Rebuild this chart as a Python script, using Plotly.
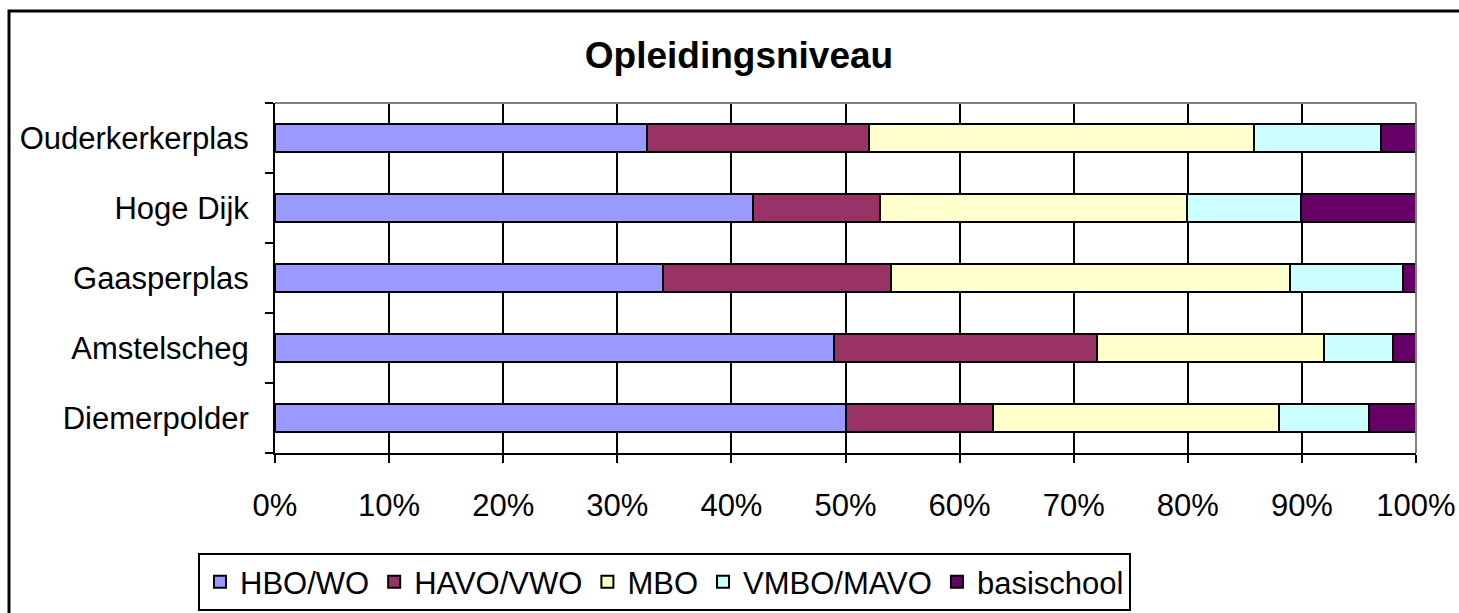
import plotly.graph_objects as go

categories = ["Diemerpolder", "Amstelscheg", "Gaasperplas", "Hoge Dijk", "Ouderkerkerplas"]
series_names = ["HBO/WO", "HAVO/VWO", "MBO", "VMBO/MAVO", "basischool"]
hbo_wo = [50.0, 49.0, 34.0, 41.9, 32.6]
havo_vwo = [12.9, 23.0, 20.0, 11.1, 19.5]
mbo = [25.1, 19.9, 35.0, 26.9, 33.7]
vmbo_mavo = [7.9, 6.1, 9.9, 10.0, 11.1]
basischool = [4.1, 2.0, 1.1, 10.1, 3.1]
x_ticks = [0, 10, 20, 30, 40, 50, 60, 70, 80, 90, 100]
x_tick_labels = [f"{t}%" for t in x_ticks]

series_values = [hbo_wo, havo_vwo, mbo, vmbo_mavo, basischool]
colors = ["#9999FF", "#993366", "#FFFFCC", "#CCFFFF", "#660066"]

W, H = 1459, 613
L, R, T, B = 275, 1416, 103, 453
FONT = "Liberation Sans, Arial, sans-serif"

fig = go.Figure()
for name, vals, col in zip(series_names, series_values, colors):
    fig.add_trace(go.Bar(
        y=categories, x=vals, name=name, orientation="h",
        marker=dict(color=col, line=dict(color="black", width=2)),
    ))

def px_x(p):
    return (p - L) / (R - L)

def px_y(p):
    return (B - p) / (B - T)

fig.update_layout(
    width=W, height=H,
    margin=dict(l=L, r=W - R, t=T, b=H - B, autoexpand=False),
    barmode="stack", bargap=0.6,
    paper_bgcolor="white", plot_bgcolor="white",
    font=dict(family=FONT, size=31, color="black"),
    title=dict(text="<b>Opleidingsniveau</b>", xref="container", yref="container",
               x=739 / W, y=1 - 55 / H, xanchor="center", yanchor="middle",
               font=dict(family=FONT, size=37, color="black")),
    showlegend=True,
    legend=dict(orientation="h", x=px_x(198), y=px_y(611), xanchor="left", yanchor="bottom",
                bgcolor="white", bordercolor="black", borderwidth=2,
                font=dict(family=FONT, size=31, color="black"),
                traceorder="normal", itemwidth=30, tracegroupgap=0),
    xaxis=dict(range=[0, 100], tickvals=x_ticks, ticktext=x_tick_labels,
               showgrid=True, gridcolor="black", gridwidth=2,
               showline=True, linecolor="black", linewidth=2,
               ticks="outside", ticklen=8, tickwidth=2, tickcolor="black",
               ticklabelstandoff=16, zeroline=False, fixedrange=True, automargin=False),
    yaxis=dict(type="category", range=[-0.5, 4.5], showgrid=False,
               showline=True, linecolor="black", linewidth=2,
               ticks="outside", ticklen=8, tickwidth=2, tickcolor="black",
               tickson="boundaries", ticklabelstandoff=18, fixedrange=True, automargin=False),
    shapes=[
        dict(type="line", xref="paper", yref="paper", x0=0, x1=1, y0=1, y1=1,
             line=dict(color="#808080", width=2)),
        dict(type="line", xref="paper", yref="paper", x0=1, x1=1, y0=0, y1=1,
             line=dict(color="#808080", width=2)),
        dict(type="rect", xref="paper", yref="paper",
             x0=px_x(9), x1=px_x(1470), y0=px_y(625), y1=px_y(11),
             line=dict(color="black", width=3), layer="below"),
    ],
)

fig.write_html("out.html", config={"displayModeBar": False},
               post_script="document.body.style.margin='0';document.body.style.overflow='hidden';")
